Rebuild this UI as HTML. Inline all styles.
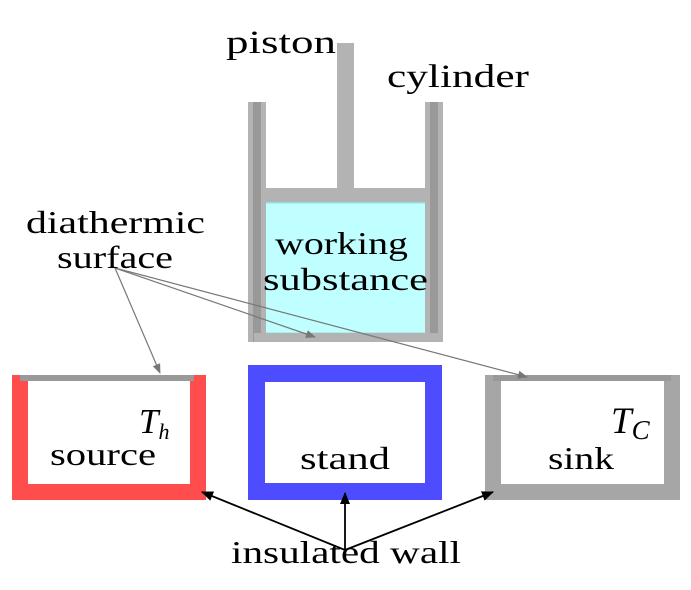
<!DOCTYPE html>
<html><head><meta charset="utf-8"><style>
html,body{margin:0;padding:0;background:#fff;}
svg{display:block;}
text{font-family:"Liberation Serif","DejaVu Serif",serif;fill:#000;}
</style></head><body>
<svg width="691" height="590" viewBox="0 0 691 590">
<defs>
<marker id="ag" markerWidth="10" markerHeight="8" refX="9" refY="4" orient="auto" markerUnits="userSpaceOnUse"><path d="M0,0 L10,4 L0,8 z" fill="#777"/></marker>
<marker id="ak" markerWidth="12" markerHeight="10" refX="11" refY="5" orient="auto" markerUnits="userSpaceOnUse"><path d="M0,0 L12,5 L0,10 z" fill="#000"/></marker>
</defs>
<g>
<rect x="262" y="202" width="167" height="132" fill="#c0ffff" stroke="#99dddd" stroke-width="3"/>
<rect x="248" y="102" width="18" height="240" fill="#b3b3b3"/>
<rect x="253" y="102" width="8" height="240" fill="#999"/>
<rect x="425" y="102" width="18" height="240" fill="#b3b3b3"/>
<rect x="430" y="102" width="8" height="240" fill="#999"/>
<rect x="254" y="333" width="184" height="9" fill="#b3b3b3"/>
</g>
<g>
<rect x="337" y="43" width="17" height="147" fill="#b3b3b3"/>
<rect x="266" y="188" width="159" height="14" fill="#b3b3b3"/>
</g>
<g>
<path d="M12,375 H28 V484 H190 V375 H206 V500 H12 Z" fill="#ff4d4d"/>
<rect x="20" y="375" width="174" height="6" fill="#999"/>
</g>
<g>
<path d="M248,365 H442 V500 H248 Z M265,382 V483 H425 V382 Z" fill="#4d4dff" fill-rule="evenodd"/>
</g>
<g>
<path d="M485,375 H501 V484 H664 V375 H680 V500 H485 Z" fill="#a6a6a6"/>
<rect x="493" y="375" width="178" height="6" fill="#999"/>
</g>
<g stroke="#777" stroke-width="1.2" fill="none">
<line x1="115" y1="268" x2="160" y2="373" marker-end="url(#ag)"/>
<line x1="115" y1="268" x2="315" y2="337" marker-end="url(#ag)"/>
<line x1="115" y1="268" x2="527" y2="377" marker-end="url(#ag)"/>
</g>
<g stroke="#000" stroke-width="1.8" fill="none">
<line x1="345" y1="550" x2="202" y2="492" marker-end="url(#ak)"/>
<line x1="345" y1="550" x2="345" y2="493" marker-end="url(#ak)"/>
<line x1="345" y1="550" x2="493" y2="492" marker-end="url(#ak)"/>
</g>
<text x="226" y="53" font-size="33" textLength="110" lengthAdjust="spacingAndGlyphs">piston</text>
<text x="387" y="87" font-size="33" textLength="142" lengthAdjust="spacingAndGlyphs">cylinder</text>
<text x="26" y="233" font-size="32" textLength="179" lengthAdjust="spacingAndGlyphs">diathermic</text>
<text x="57" y="268" font-size="32" textLength="116" lengthAdjust="spacingAndGlyphs">surface</text>
<text x="275" y="254" font-size="32" textLength="133" lengthAdjust="spacingAndGlyphs">working</text>
<text x="263" y="290" font-size="32" textLength="165" lengthAdjust="spacingAndGlyphs">substance</text>
<text x="50" y="465" font-size="32" textLength="106" lengthAdjust="spacingAndGlyphs">source</text>
<text x="300" y="469" font-size="32" textLength="90" lengthAdjust="spacingAndGlyphs">stand</text>
<text x="548" y="469" font-size="32" textLength="66" lengthAdjust="spacingAndGlyphs">sink</text>
<text x="139" y="433" font-size="35" font-style="italic">T<tspan font-size="22" dy="6">h</tspan></text>
<text x="611" y="433" font-size="37" font-style="italic">T<tspan font-size="27" dy="6">C</tspan></text>
<text x="231" y="563" font-size="32" textLength="230" lengthAdjust="spacingAndGlyphs">insulated wall</text>
</svg>
</body></html>
